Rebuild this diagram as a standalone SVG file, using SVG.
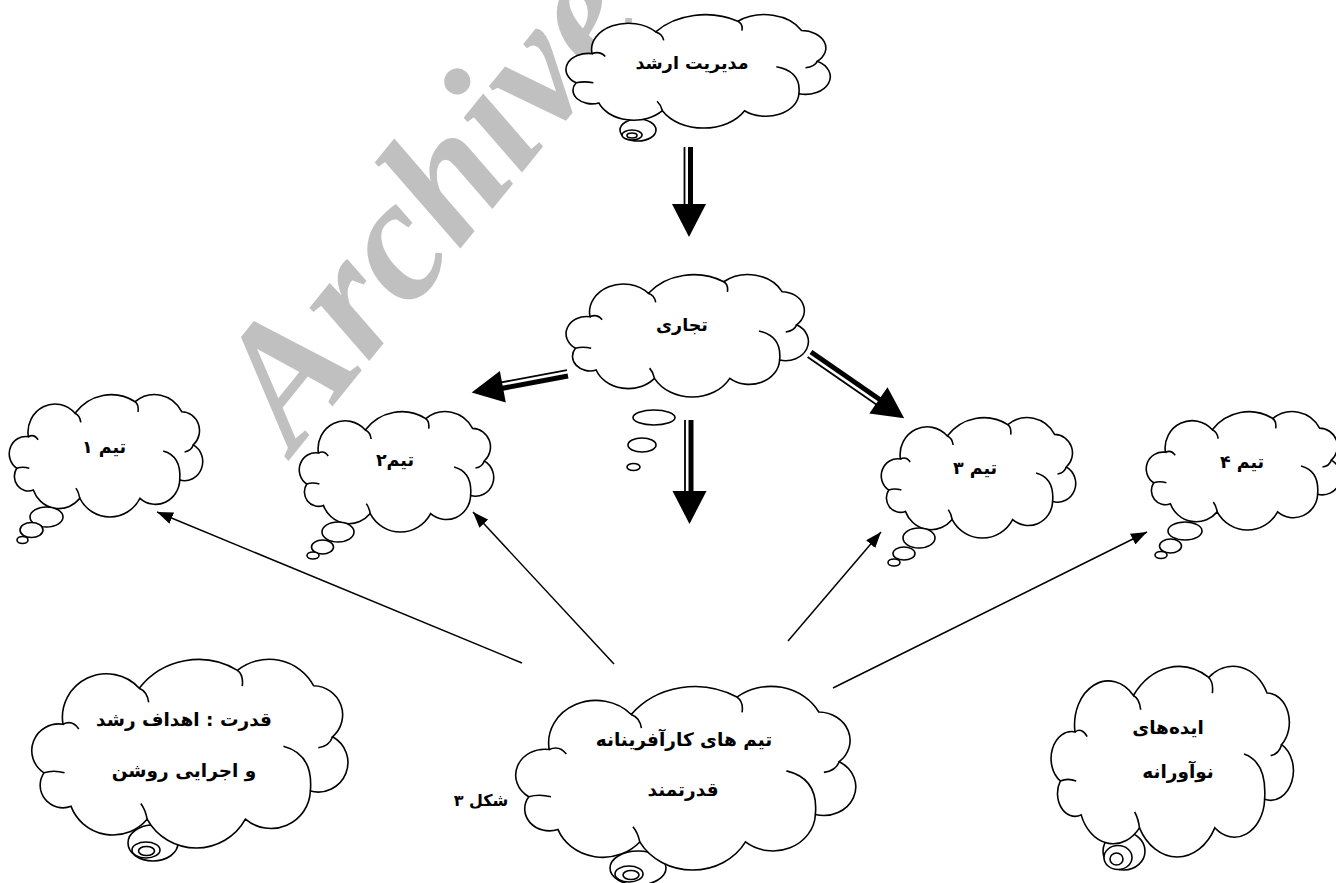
<svg xmlns="http://www.w3.org/2000/svg" xmlns:xlink="http://www.w3.org/1999/xlink" width="1336" height="883" viewBox="0 0 1336 883">
<style>
.cloud{fill:#fff;stroke:#000;stroke-width:1.6}
.inner{fill:none;stroke:#000;stroke-width:1.6}
.bub{fill:#fff;stroke:#000;stroke-width:1.6}
.t{font-family:"DejaVu Sans",sans-serif;font-weight:bold;fill:#000;text-anchor:middle;direction:rtl}
.s{font-size:17.5px}
.l{font-size:18.5px}
.c{font-size:16px}
.wm{font-family:"Liberation Serif",serif;font-weight:bold;font-style:italic;font-size:174px;fill:#c0c0c0}
.thin{stroke:#000;stroke-width:1.5;fill:none}
.dthick{stroke:#000;stroke-width:5}
.dthin{stroke:#000;stroke-width:1.8}
</style>
<defs>
<path id="cl" vector-effect="non-scaling-stroke" d="M6.9,72 A17,17 0 0 1 18.9,41 A27.8,27.8 0 0 1 67,18 A47.3,47.3 0 0 1 129,6.6 A31.8,31.8 0 0 1 177,16.4 A18.6,18.6 0 0 1 189,49 A18.8,18.8 0 0 1 175,83.6 A24.9,24.9 0 0 1 134,101.6 A35.3,35.3 0 0 1 72,101.6 A28.2,28.2 0 0 1 24,93.4 A14.4,14.4 0 0 1 6.9,72 Z"/>
<path id="ci" vector-effect="non-scaling-stroke" d="M18.9,41 q6,-3 10,3 M67,18 q5,2 6,9 M129,6.6 q4,3 3,10 M189,49 q-2,6 -9,7 M158,55 Q177,60 175,83.6 M72,101.6 q-1,-6 -4,-10 M6.9,72 q6,-2 13,0"/>
<marker id="ah" markerUnits="userSpaceOnUse" viewBox="0 0 16 12" markerWidth="16" markerHeight="12" refX="16" refY="6" orient="auto">
<path d="M0,0 L16,6 L0,12 Z" fill="#000"/>
</marker>
</defs>
<rect width="1336" height="883" fill="#fff"/>
<text class="wm" transform="translate(294,454) rotate(-51)">Archive</text>

<g id="node-top">
<ellipse class="bub" cx="638" cy="130" rx="18" ry="11"/>
<ellipse class="bub" cx="632" cy="135" rx="10" ry="5"/>
<ellipse class="bub" cx="632" cy="135.5" rx="5" ry="2.5"/>
<g transform="translate(567,15) scale(1.325,0.942)"><use href="#cl" class="cloud"/><use href="#ci" class="inner"/></g>
<text class="t s" x="692" y="69">مدیریت ارشد</text>
</g>

<g id="node-tajari">
<g transform="translate(567,275) scale(1.215,1.017)"><use href="#cl" class="cloud"/><use href="#ci" class="inner"/></g>
<ellipse class="bub" cx="654" cy="417.5" rx="21" ry="7.5"/>
<ellipse class="bub" cx="642" cy="445" rx="14" ry="7"/>
<ellipse class="bub" cx="633.5" cy="467" rx="6.5" ry="3.5"/>
<text class="t s" x="682" y="331">تجاری</text>
</g>

<g id="node-team1">
<g transform="translate(10,395) scale(0.97,1.017)"><use href="#cl" class="cloud"/><use href="#ci" class="inner"/></g>
<ellipse class="bub" cx="46.5" cy="517" rx="16.5" ry="10"/>
<ellipse class="bub" cx="31.5" cy="530" rx="11.5" ry="7.5"/>
<ellipse class="bub" cx="22.5" cy="540" rx="5.5" ry="3.5"/>
<text class="t s" x="104" y="453">تیم ۱</text>
</g>

<g id="node-team2">
<g transform="translate(300,412) scale(0.975,1)"><use href="#cl" class="cloud"/><use href="#ci" class="inner"/></g>
<ellipse class="bub" cx="338" cy="532" rx="16" ry="10"/>
<ellipse class="bub" cx="322.5" cy="547" rx="11" ry="7"/>
<ellipse class="bub" cx="313" cy="555.5" rx="6" ry="3.5"/>
<text class="t s" x="395" y="466">تیم۲</text>
</g>

<g id="node-team3">
<g transform="translate(882,418) scale(0.975,1)"><use href="#cl" class="cloud"/><use href="#ci" class="inner"/></g>
<ellipse class="bub" cx="919" cy="538" rx="16" ry="10"/>
<ellipse class="bub" cx="904" cy="553.5" rx="11" ry="6.5"/>
<ellipse class="bub" cx="894" cy="562.5" rx="6" ry="3.5"/>
<text class="t s" x="975" y="474">تیم ۳</text>
</g>

<g id="node-team4">
<g transform="translate(1147,412) scale(0.975,0.983)"><use href="#cl" class="cloud"/><use href="#ci" class="inner"/></g>
<ellipse class="bub" cx="1185" cy="531" rx="17" ry="9"/>
<ellipse class="bub" cx="1170.5" cy="546" rx="11" ry="7"/>
<ellipse class="bub" cx="1161" cy="555" rx="6" ry="3.5"/>
<text class="t s" x="1242" y="468">تیم ۴</text>
</g>

<g id="node-power">
<ellipse class="bub" cx="153" cy="843" rx="25" ry="18"/>
<ellipse class="bub" cx="146" cy="850" rx="14" ry="8"/>
<ellipse class="bub" cx="146.5" cy="851" rx="8" ry="4.5"/>
<g transform="translate(33,660) scale(1.585,1.567)"><use href="#cl" class="cloud"/><use href="#ci" class="inner"/></g>
<text class="t l" x="184" y="726">قدرت : اهداف رشد</text>
<text class="t l" x="184" y="777">و اجرایی روشن</text>
</g>

<g id="node-teams">
<ellipse class="bub" cx="638" cy="868" rx="28" ry="17"/>
<ellipse class="bub" cx="629" cy="874" rx="14" ry="8"/>
<ellipse class="bub" cx="631" cy="875" rx="8" ry="4.5"/>
<g transform="translate(517,687) scale(1.705,1.525)"><use href="#cl" class="cloud"/><use href="#ci" class="inner"/></g>
<text class="t l" x="684" y="746">تیم های کارآفرینانه</text>
<text class="t l" x="683" y="796">قدرتمند</text>
</g>

<g id="node-ideas">
<ellipse class="bub" cx="1124" cy="851" rx="21" ry="19"/>
<ellipse class="bub" cx="1118" cy="857.5" rx="14" ry="12"/>
<ellipse class="bub" cx="1116.5" cy="859" rx="6.5" ry="6"/>
<g transform="translate(1052,667) scale(1.215,1.583)"><use href="#cl" class="cloud"/><use href="#ci" class="inner"/></g>
<text class="t l" x="1168" y="734">ایده‌های</text>
<text class="t l" x="1178" y="778">نوآورانه</text>
</g>

<g id="caption">
<text class="t c" x="481" y="806">شکل ۳</text>
</g>

<g id="connectors">
<g transform="translate(690.5,147) rotate(90)">
<line class="dthick" x1="0" y1="0" x2="60" y2="0"/><line class="dthin" x1="0" y1="6" x2="60" y2="6"/>
<polygon points="57,-15.5 90,1.5 57,18.5" fill="#000"/>
</g>
<g transform="translate(691,420) rotate(90)">
<line class="dthick" x1="0" y1="0" x2="74" y2="0"/><line class="dthin" x1="0" y1="6" x2="74" y2="6"/>
<polygon points="71,-15.5 104,1.5 71,18.5" fill="#000"/>
</g>
<g transform="translate(568,376) rotate(169.38)">
<line class="dthick" x1="0" y1="0" x2="68" y2="0"/><line class="dthin" x1="0" y1="6" x2="68" y2="6"/>
<polygon points="66,-14.5 97.7,1.5 66,17.5" fill="#000"/>
</g>
<g transform="translate(811,352) rotate(34.66)">
<line class="dthick" x1="0" y1="0" x2="84" y2="0"/><line class="dthin" x1="0" y1="6" x2="84" y2="6"/>
<polygon points="83,-14.5 114.3,1.5 83,17.5" fill="#000"/>
</g>
<line class="thin" x1="522" y1="663" x2="157" y2="512" marker-end="url(#ah)"/>
<line class="thin" x1="614" y1="664" x2="473" y2="512" marker-end="url(#ah)"/>
<line class="thin" x1="788" y1="641" x2="881" y2="532" marker-end="url(#ah)"/>
<line class="thin" x1="833" y1="688" x2="1147" y2="532" marker-end="url(#ah)"/>
</g>
</svg>
